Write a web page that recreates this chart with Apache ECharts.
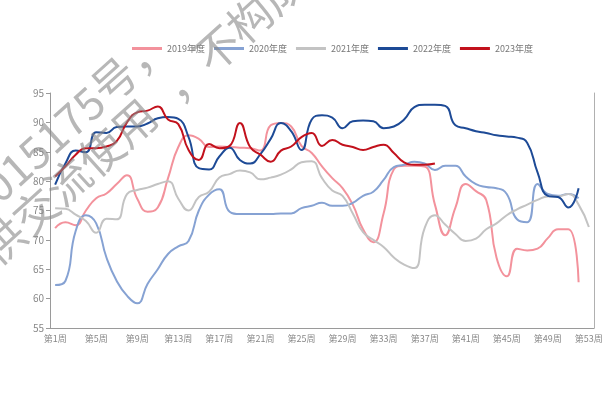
<!DOCTYPE html>
<html>
<head>
<meta charset="utf-8">
<script src="https://cdn.jsdelivr.net/npm/echarts@6/dist/echarts.min.js"></script>
<style>
  html, body { margin: 0; padding: 0; background: #fff; }
  #chart { width: 611px; height: 393px; }
</style>
</head>
<body>
<div id="chart"></div>
<script>
// Weekly index by year, weeks 1..53
const weeks = Array.from({ length: 53 }, (_, i) => '第' + (i + 1) + '周');
const seriesNames = ['2019年度', '2020年度', '2021年度', '2022年度', '2023年度'];

const y2019 = [72, 73, 72.5, 75, 77.1, 77.9, 79.5, 81, 77, 74.8, 75.5, 80.5, 85.8, 87.8, 87.2, 85.8, 85.9, 85.8, 85.7, 85.6,
  85.2, 89.5, 89.9, 89.3, 86, 84.8, 82.5, 80.5, 78.8, 76, 71.8, 69.6, 74.5, 82, 82.6, 82.6, 82.5, 76, 70.8, 75.5,
  79.5, 78.3, 76.8, 67, 63.8, 68.5, 68.2, 68.5, 70.3, 71.8, 71.8, 62.8];
const y2020 = [62.3, 63, 71.5, 74.2, 72.8, 67, 63, 60.5, 59.2, 62.5, 65, 67.6, 68.9, 69.8, 75, 77.7, 78.6, 74.8, 74.4, 74.4,
  74.4, 74.4, 74.5, 74.5, 75.4, 75.8, 76.3, 75.8, 75.8, 76.3, 77.5, 78.2, 80.2, 82.4, 82.8, 83.3, 83, 81.9, 82.6, 82.6,
  80.8, 79.5, 79, 78.8, 77.8, 73.5, 73, 79.5, 77.8, 77.5, 77.8, 77.1];
const y2021 = [75.4, 75.3, 74.3, 73.2, 71.2, 73.6, 73.5, 77.8, 78.5, 78.9, 79.5, 80, 77, 75, 77.3, 78.2, 80.6, 81.2, 81.8, 81.5,
  80.3, 80.6, 81.1, 82, 83.2, 83.4, 80.5, 78.4, 77.5, 74.5, 71.3, 70, 68.8, 67, 65.8, 65.2, 72, 74.2, 72.6, 71,
  69.8, 70.2, 71.8, 72.8, 74.2, 75.2, 76, 76.8, 77.4, 77.4, 77.8, 76, 72.2];
const y2022 = [79.4, 83, 85.2, 84.9, 88.3, 88.2, 89.2, 89.3, 89.3, 89.8, 90.7, 90.9, 90.6, 87.5, 82.2, 82, 84.2, 85.7, 83.6, 83,
  84.6, 87.2, 89.9, 88.5, 85.3, 90.5, 91.2, 90.8, 89, 90.2, 90.3, 90.2, 89, 89.3, 90.5, 92.6, 93, 93, 92.8, 89.5,
  89, 88.5, 88.2, 87.8, 87.6, 87.4, 86.5, 81.5, 77.5, 77.3, 75.5, 78.8];
const y2023 = [80.8, 82.5, 84.5, 85.6, 85.6, 85.9, 86.8, 90, 91.7, 92, 92.7, 90.5, 89.7, 85.3, 83.6, 86.3, 85.6, 86, 89.9, 85.8,
  84.5, 83.3, 85.2, 85.9, 87.5, 88.2, 86, 87, 86.2, 85.8, 85.3, 85.8, 86.2, 84.8, 83.2, 82.8, 82.8, 83];

const yTicks = { min: 55, max: 95, step: 5 };
const colors = ['#f3929c', '#86a2d3', '#c3c3c3', '#1d4a96', '#c2111c'];
const values = [y2019, y2020, y2021, y2022, y2023];

const cjk = '"Noto Sans CJK SC", "Noto Sans", sans-serif';
const chart = echarts.init(document.getElementById('chart'));

// diagonal watermark text
const wmAngle = 42 * Math.PI / 180;
const wmStyle = { fontSize: 44, fill: 'rgba(135,135,135,0.6)', verticalAlign: 'middle', fontFamily: cjk };
function wm(text, x, y, align) {
  return { type: 'text', x, y, rotation: wmAngle, z: 100, silent: true,
    style: Object.assign({ text, align }, wmStyle) };
}

chart.setOption({
  animation: false,
  backgroundColor: '#fff',
  color: colors,
  textStyle: { fontFamily: cjk },
  legend: {
    top: 39,
    left: 127,
    icon: 'rect',
    itemWidth: 30,
    itemHeight: 3,
    itemGap: 9,
    textStyle: { fontSize: 9, color: '#777', fontFamily: cjk },
    data: seriesNames
  },
  grid: { left: 50, right: 17, top: 93, bottom: 65, containLabel: false },
  xAxis: {
    type: 'category',
    data: weeks,
    boundaryGap: true,
    axisLine: { lineStyle: { color: '#9a9a9a' } },
    axisTick: { interval: 3, length: 4, lineStyle: { color: '#9a9a9a' } },
    axisLabel: { interval: 3, fontSize: 9, color: '#888', margin: 6, fontFamily: cjk }
  },
  yAxis: [{
    type: 'value',
    min: yTicks.min,
    max: yTicks.max,
    interval: yTicks.step,
    axisLine: { show: true, lineStyle: { color: '#9a9a9a' } },
    axisTick: { show: true, length: 4, lineStyle: { color: '#9a9a9a' } },
    axisLabel: { fontSize: 10, color: '#888', margin: 6 },
    splitLine: { show: false }
  }, {
    type: 'value',
    position: 'right',
    min: yTicks.min,
    max: yTicks.max,
    interval: yTicks.step,
    axisLine: { show: true, lineStyle: { color: '#b0b0b0' } },
    axisTick: { show: false },
    axisLabel: { show: false },
    splitLine: { show: false }
  }],
  series: seriesNames.map((name, i) => ({
    name,
    type: 'line',
    data: values[i],
    smooth: 0.5,
    showSymbol: false,
    symbol: 'none',
    lineStyle: { width: 2, color: colors[i] },
    z: 2 + i
  })),
  graphic: [
    wm('证号Z0015175号，', 163, 36, 'right'),
    wm('仅供交流使用', 150, 108, 'right'),
    wm('，不构成投资建议', 168, 93, 'left')
  ]
});
</script>
</body>
</html>
